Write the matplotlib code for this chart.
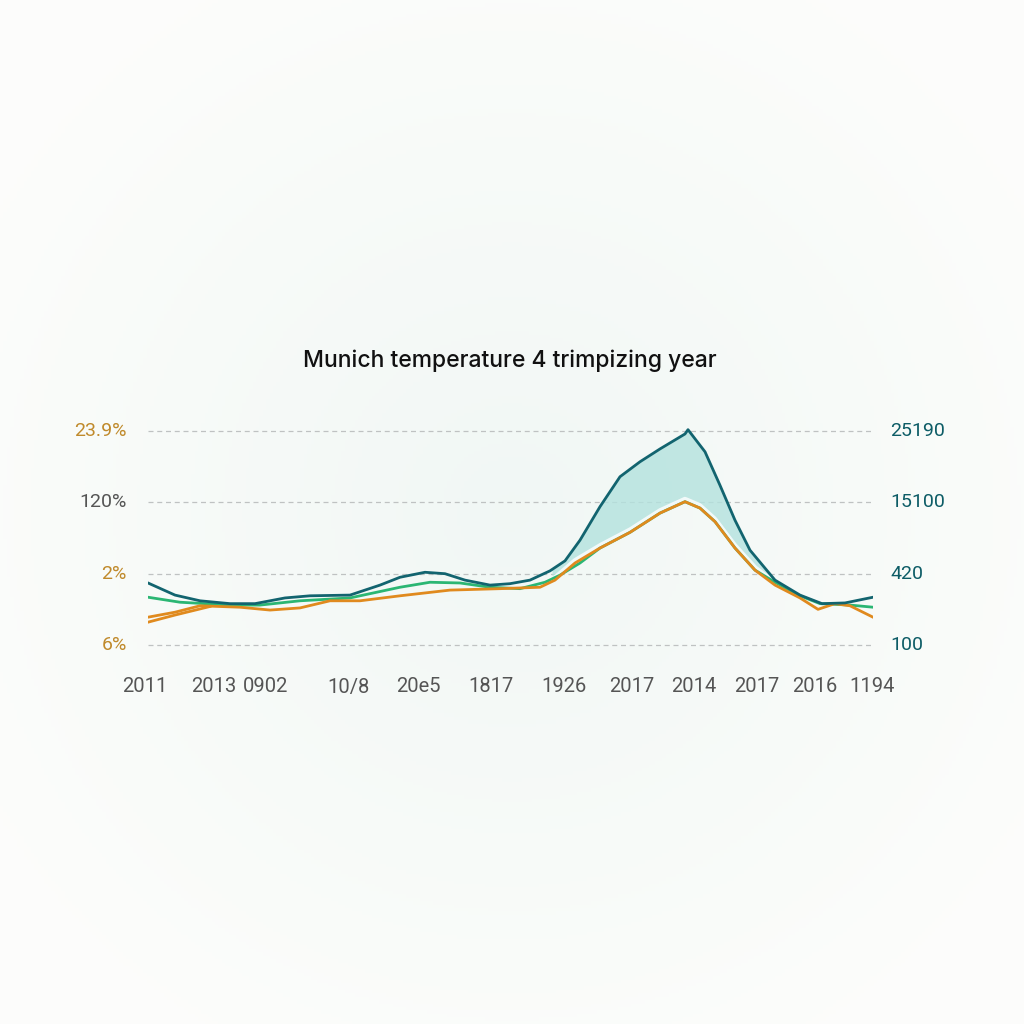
import numpy as np
import matplotlib.pyplot as plt

# ---- data (x in chart units along the axis, y in grid units: 0=bottom line, 3=top line)
tick_x = [145, 214, 266, 348, 418, 491, 564, 632, 694, 757, 815, 872]
tick_labels = ['2011', '2013', '0902', '10/8', '20e5', '1817', '1926',
               '2017', '2014', '2017', '2016', '1194']

left_labels = ['6%', '2%', '120%', '23.9%']
left_colors = ['#c08a2c', '#c08a2c', '#555555', '#c08a2c']
right_labels = ['100', '420', '15100', '25190']

teal_x = [148, 175, 200, 230, 255, 285, 310, 350, 380, 400, 425, 445, 465, 490,
          510, 530, 550, 565, 580, 600, 620, 640, 660, 685, 688, 705, 720, 735,
          750, 775, 800, 822, 845, 873]
teal_y = [0.87, 0.70, 0.62, 0.58, 0.58, 0.66, 0.69, 0.70, 0.84, 0.95, 1.02, 1.00,
          0.91, 0.84, 0.86, 0.91, 1.04, 1.18, 1.47, 1.94, 2.36, 2.57, 2.75, 2.96,
          3.02, 2.71, 2.24, 1.75, 1.33, 0.91, 0.70, 0.58, 0.59, 0.67]

green_x = [148, 180, 230, 260, 300, 350, 400, 430, 460, 490, 520, 545, 560, 580,
           600, 630, 660, 685, 700, 715, 735, 755, 775, 800, 820, 850, 873]
green_y = [0.67, 0.60, 0.56, 0.56, 0.62, 0.66, 0.81, 0.88, 0.87, 0.81, 0.79, 0.88,
           0.98, 1.15, 1.36, 1.58, 1.85, 2.01, 1.92, 1.73, 1.36, 1.05, 0.88, 0.69,
           0.58, 0.56, 0.53]

orange_x = [148, 175, 200, 240, 270, 300, 330, 360, 400, 450, 500, 540, 555, 575,
            600, 630, 660, 685, 700, 715, 735, 755, 775, 800, 818, 835, 850, 873]
orange_y = [0.39, 0.46, 0.55, 0.53, 0.49, 0.52, 0.62, 0.62, 0.69, 0.77, 0.79, 0.81,
            0.91, 1.15, 1.36, 1.58, 1.85, 2.01, 1.92, 1.73, 1.36, 1.05, 0.84, 0.66,
            0.50, 0.58, 0.55, 0.39]

orange2_x = [148, 175, 210]
orange2_y = [0.32, 0.42, 0.54]

fill_from, fill_to = 552, 778

# ---- figure
fig = plt.figure(figsize=(10.24, 10.24), dpi=100)
fig.patch.set_facecolor('#fbfcfa')

# soft radial background
bg = fig.add_axes([0, 0, 1, 1])
yy, xx = np.mgrid[0:1:300j, 0:1:300j]
r = np.sqrt((xx - 0.5) ** 2 + (yy - 0.5) ** 2)
shade = np.clip(r / 0.6, 0, 1)
c_in = np.array([0.945, 0.97, 0.96])
c_out = np.array([0.99, 0.992, 0.985])
img = c_in[None, None, :] * (1 - shade[..., None]) + c_out[None, None, :] * shade[..., None]
bg.imshow(img, extent=[0, 1, 0, 1], aspect='auto')
bg.axis('off')

# main axes: x 148..873 px, y 420..660 px
ax = fig.add_axes([148 / 1024, 1 - 660 / 1024, 725 / 1024, 240 / 1024])
ax.patch.set_alpha(0)
ax.set_xlim(148, 873)
ax.set_ylim(-15 / 71.3, 225 / 71.3)

for g in range(4):
    ax.axhline(g, color='#bfc2c2', lw=0.9, ls=(0, (4, 3)), zorder=1)

# fill between teal and orange
fx = np.linspace(fill_from, fill_to, 200)
ft = np.interp(fx, teal_x, teal_y)
fo = np.interp(fx, orange_x, orange_y)
ax.fill_between(fx, fo, ft, where=ft >= fo, color='#b3e2de', alpha=0.8, lw=0, zorder=2)
ax.plot(fx, fo + 0.04, color='white', lw=3, alpha=0.8, zorder=2)

ax.plot(green_x, green_y, color='#2bb673', lw=2.0, zorder=3)
ax.plot(orange2_x, orange2_y, color='#e08a1e', lw=2.0, zorder=4)
ax.plot(orange_x, orange_y, color='#e08a1e', lw=2.0, zorder=4)
ax.plot(teal_x, teal_y, color='#12646f', lw=2.0, zorder=5)

for s in ax.spines.values():
    s.set_visible(False)
ax.set_xticks([])
ax.set_yticks([])

# axis labels as text in axes data coordinates
for i, lab in enumerate(left_labels):
    ax.text(127, i, lab, ha='right', va='center', fontsize=14, family='Roboto',
            color=left_colors[i], clip_on=False)
for i, lab in enumerate(right_labels):
    ax.text(890, i, lab, ha='left', va='center', fontsize=14, family='Roboto',
            color='#0d5c66', clip_on=False)
for x, lab in zip(tick_x, tick_labels):
    ax.text(x, -42 / 71.3, lab, ha='center', va='center', fontsize=14.5,
            family='Roboto', color='#555555', clip_on=False)

fig.text(510 / 1024, 1 - 361 / 1024, 'Munich temperature 4 trimpizing year',
         ha='center', va='center', fontsize=16.5, family='Inter', weight='medium',
         color='#111111')

fig.savefig('out.png', dpi=100, facecolor=fig.get_facecolor())
